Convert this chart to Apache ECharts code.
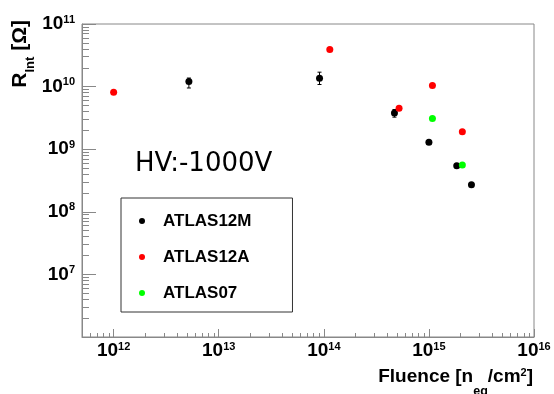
<!DOCTYPE html>
<html>
<head>
<meta charset="utf-8">
<script src="https://cdn.jsdelivr.net/npm/echarts@6/dist/echarts.min.js"></script>
<style>
  html, body { margin: 0; padding: 0; background: #fff; }
  #chart { width: 554px; height: 394px; }
</style>
</head>
<body>
<div id="chart"></div>
<script>
// ATLAS12M (black), with vertical error bars
const fluence12M = [5.2e12, 9.1e13, 4.7e14, 1.0e15, 1.84e15, 2.54e15]
const rint12M = [1.21e10, 1.36e10, 3.8e9, 1.29e9, 5.45e8, 2.7e8]
const rint12MLow = [9.5e9, 1.08e10, 3.25e9, 1.29e9, 5.45e8, 2.7e8]
const rint12MHigh = [1.37e10, 1.70e10, 4.3e9, 1.29e9, 5.45e8, 2.7e8]

// ATLAS12A (red)
const fluence12A = [1.0e12, 1.14e14, 5.2e14, 1.08e15, 2.08e15]
const rint12A = [8.1e9, 3.9e10, 4.5e9, 1.04e10, 1.9e9]

// ATLAS07 (green)
const fluence07 = [1.08e15, 2.08e15]
const rint07 = [3.1e9, 5.6e8]

// axis ticks
const majorX = [1e12, 1e13, 1e14, 1e15, 1e16]
const majorY = [1e7, 1e8, 1e9, 1e10, 1e11]

function minorTicks(fromExp, toExp, startMult) {
  const out = []
  for (let e = fromExp; e < toExp; e++) {
    for (let m = (e === fromExp ? startMult : 2); m <= 9; m++) out.push(m * Math.pow(10, e))
  }
  return out
}
const minorX = minorTicks(11, 16, 6)
const minorY = minorTicks(6, 11, 2)

const FONT = 'Liberation Sans'
const AXIS_GREY = '#888'

const chart = echarts.init(document.getElementById('chart'))

const powLabel = v => '{b|10}{s|' + Math.round(Math.log10(v)) + '}'
const powRich = {
  b: { fontSize: 19, fontWeight: 'bold', fontFamily: FONT, color: '#000', lineHeight: 20 },
  s: { fontSize: 11, fontWeight: 'bold', fontFamily: FONT, color: '#000', lineHeight: 11, verticalAlign: 'top' }
}

// rich styles for the axis titles: base text on top, subscript pushed to the bottom of the line
function titleRich(size, subSize, subLine) {
  return {
    b: { fontSize: size, fontWeight: 'bold', fontFamily: FONT, fill: '#000', lineHeight: size + 4, verticalAlign: 'top' },
    sub: { fontSize: subSize, fontWeight: 'bold', fontFamily: FONT, fill: '#000', lineHeight: subLine, verticalAlign: 'bottom' },
    sup: { fontSize: 11, fontWeight: 'bold', fontFamily: FONT, fill: '#000', lineHeight: 11, verticalAlign: 'top' }
  }
}

function majorAxis(min, max, ticks, tickLen, extra) {
  return Object.assign({
    type: 'log',
    min: min,
    max: max,
    axisLine: { show: true, lineStyle: { color: AXIS_GREY, width: 1 } },
    axisTick: { inside: true, length: tickLen, customValues: ticks, lineStyle: { color: AXIS_GREY } },
    splitLine: { show: false },
    minorTick: { show: false }
  }, extra)
}

function minorAxis(min, max, ticks, tickLen, extra) {
  return Object.assign({
    type: 'log',
    min: min,
    max: max,
    axisLine: { show: false },
    axisTick: { inside: true, length: tickLen, customValues: ticks, lineStyle: { color: AXIS_GREY } },
    axisLabel: { show: false },
    splitLine: { show: false }
  }, extra)
}

const option = {
  backgroundColor: '#fff',
  animation: false,
  grid: {
    left: 82, right: 20, top: 24, bottom: 57,
    show: true, borderColor: AXIS_GREY, borderWidth: 1,
    outerBoundsMode: 'none'
  },
  xAxis: [
    majorAxis(5e11, 1e16, majorX, 8, { position: 'bottom', axisLabel: { customValues: majorX, formatter: powLabel, rich: powRich, margin: 4 } }),
    minorAxis(5e11, 1e16, minorX, 4, { position: 'bottom' })
  ],
  yAxis: [
    majorAxis(1e6, 1e11, majorY, 14, { position: 'left', axisLabel: { customValues: majorY, formatter: powLabel, rich: powRich, margin: 7 } }),
    minorAxis(1e6, 1e11, minorY, 7, { position: 'left' })
  ],
  legend: {
    data: ['ATLAS12M', 'ATLAS12A', 'ATLAS07'],
    orient: 'vertical',
    left: 121,
    top: 198,
    padding: [13, 41, 9, 18],
    itemGap: 16,
    itemWidth: 6,
    itemHeight: 6,
    icon: 'circle',
    borderColor: '#333',
    borderWidth: 1,
    borderRadius: 0,
    textStyle: { fontSize: 17, fontWeight: 'bold', fontFamily: FONT, color: '#000', lineHeight: 20, padding: [0, 0, 0, 13] }
  },
  graphic: [
    {
      type: 'text',
      x: 135, y: 164,
      style: { text: 'HV:-1000V', font: '26px "DejaVu Sans"', fill: '#000', textVerticalAlign: 'middle' }
    },
    {
      type: 'text',
      x: 533, y: 367,
      style: {
        text: '{b|Fluence [n}{sub|eq}{b|/cm}{sup|2}{b|]}',
        textAlign: 'right', textVerticalAlign: 'top',
        rich: titleRich(19, 12.5, 31)
      }
    },
    {
      type: 'text',
      x: 10, y: 20,
      rotation: Math.PI / 2,
      style: {
        text: '{b|R}{sub|Int}{b| [Ω]}',
        textAlign: 'right', textVerticalAlign: 'top',
        rich: titleRich(21, 13, 27)
      }
    }
  ],
  series: [
    {
      name: 'ATLAS12M err',
      type: 'custom',
      xAxisIndex: 0,
      yAxisIndex: 0,
      data: fluence12M.map((x, i) => [x, rint12M[i], rint12MLow[i], rint12MHigh[i]]),
      renderItem: (params, api) => {
        const lo = api.coord([api.value(0), api.value(2)])
        const hi = api.coord([api.value(0), api.value(3)])
        if (Math.abs(lo[1] - hi[1]) < 1) return null
        const style = { stroke: '#000', lineWidth: 1 }
        return {
          type: 'group',
          children: [
            { type: 'line', shape: { x1: lo[0], y1: lo[1], x2: hi[0], y2: hi[1] }, style },
            { type: 'line', shape: { x1: lo[0] - 2, y1: lo[1], x2: lo[0] + 2, y2: lo[1] }, style },
            { type: 'line', shape: { x1: hi[0] - 2, y1: hi[1], x2: hi[0] + 2, y2: hi[1] }, style }
          ]
        }
      }
    },
    {
      name: 'ATLAS12M',
      type: 'scatter',
      symbol: 'circle',
      symbolSize: 7,
      itemStyle: { color: '#000', opacity: 1 },
      data: fluence12M.map((x, i) => [x, rint12M[i]])
    },
    {
      name: 'ATLAS12A',
      type: 'scatter',
      symbol: 'circle',
      symbolSize: 7,
      itemStyle: { color: '#ff0000', opacity: 1 },
      data: fluence12A.map((x, i) => [x, rint12A[i]])
    },
    {
      name: 'ATLAS07',
      type: 'scatter',
      symbol: 'circle',
      symbolSize: 7,
      itemStyle: { color: '#00ff00', opacity: 1 },
      data: fluence07.map((x, i) => [x, rint07[i]])
    }
  ]
}

chart.setOption(option)
</script>
</body>
</html>
